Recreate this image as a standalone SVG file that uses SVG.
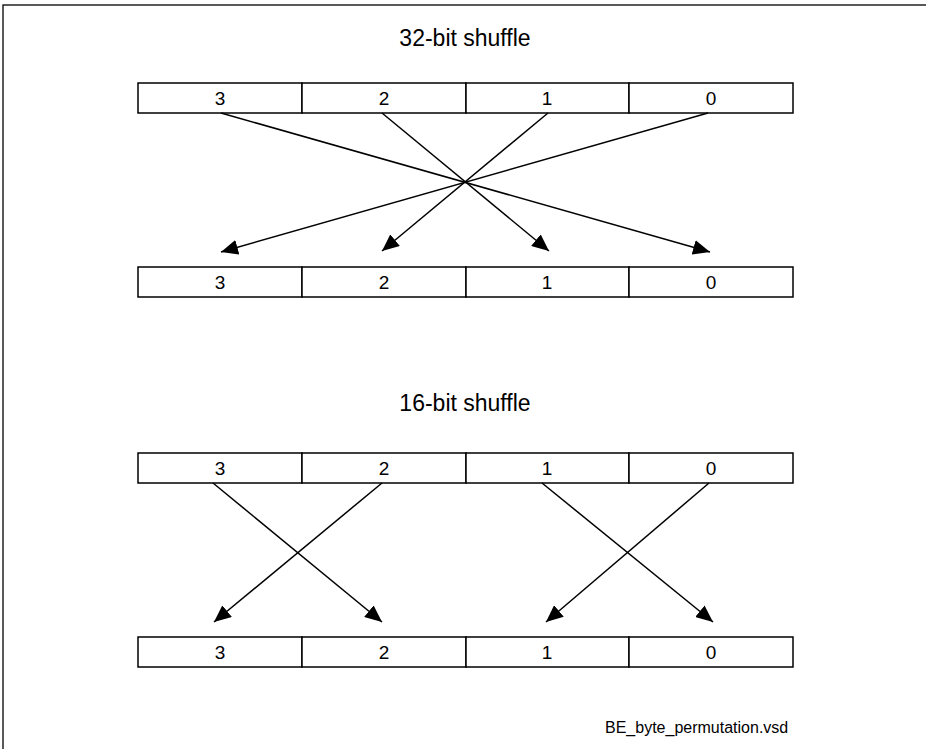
<svg xmlns="http://www.w3.org/2000/svg" width="926" height="749" viewBox="0 0 926 749">
<style>
.frame{fill:none;stroke:#000;stroke-width:1.3}
.cell{fill:#fff;stroke:#000;stroke-width:1.5}
.lbl{font-family:"Liberation Sans",Arial,sans-serif;font-size:19px;text-anchor:middle;fill:#000}
.title{font-family:"Liberation Sans",Arial,sans-serif;font-size:23px;text-anchor:middle;fill:#000}
.foot{font-family:"Liberation Sans",Arial,sans-serif;font-size:16px;fill:#000}
.conn line{stroke:#000;stroke-width:1.5;marker-end:url(#arr)}
</style>
<defs>
<marker id="arr" viewBox="0 0 17 15" refX="17" refY="7.5" markerWidth="17" markerHeight="15" markerUnits="userSpaceOnUse" orient="auto">
<path d="M0,0 L17,7.5 L0,15 z" fill="#000"/>
</marker>
</defs>
<rect width="926" height="749" fill="#fff"/>
<rect class="frame" x="3" y="5" width="940" height="760"/>
<text class="title" x="465" y="46">32-bit shuffle</text>
<g id="src32">
<rect class="cell" x="138" y="83" width="164" height="30"/>
<rect class="cell" x="302" y="83" width="164" height="30"/>
<rect class="cell" x="466" y="83" width="163" height="30"/>
<rect class="cell" x="629" y="83" width="164" height="30"/>
<text class="lbl" x="220" y="105">3</text>
<text class="lbl" x="384" y="105">2</text>
<text class="lbl" x="547" y="105">1</text>
<text class="lbl" x="711" y="105">0</text>
</g>
<g id="dst32">
<rect class="cell" x="138" y="267" width="164" height="30"/>
<rect class="cell" x="302" y="267" width="164" height="30"/>
<rect class="cell" x="466" y="267" width="163" height="30"/>
<rect class="cell" x="629" y="267" width="164" height="30"/>
<text class="lbl" x="220" y="289">3</text>
<text class="lbl" x="384" y="289">2</text>
<text class="lbl" x="547" y="289">1</text>
<text class="lbl" x="711" y="289">0</text>
</g>
<text class="title" x="465" y="411">16-bit shuffle</text>
<g id="src16">
<rect class="cell" x="138" y="453" width="164" height="30"/>
<rect class="cell" x="302" y="453" width="164" height="30"/>
<rect class="cell" x="466" y="453" width="163" height="30"/>
<rect class="cell" x="629" y="453" width="164" height="30"/>
<text class="lbl" x="220" y="475">3</text>
<text class="lbl" x="384" y="475">2</text>
<text class="lbl" x="547" y="475">1</text>
<text class="lbl" x="711" y="475">0</text>
</g>
<g id="dst16">
<rect class="cell" x="138" y="637" width="164" height="30"/>
<rect class="cell" x="302" y="637" width="164" height="30"/>
<rect class="cell" x="466" y="637" width="163" height="30"/>
<rect class="cell" x="629" y="637" width="164" height="30"/>
<text class="lbl" x="220" y="659">3</text>
<text class="lbl" x="384" y="659">2</text>
<text class="lbl" x="547" y="659">1</text>
<text class="lbl" x="711" y="659">0</text>
</g>
<g id="connectors" class="conn">
<line x1="221" y1="113" x2="710" y2="252"/>
<line x1="382" y1="113" x2="549" y2="251"/>
<line x1="548" y1="113" x2="382" y2="251"/>
<line x1="708" y1="113" x2="221" y2="252"/>
<line x1="213" y1="483" x2="382" y2="622"/>
<line x1="382" y1="483" x2="214" y2="622"/>
<line x1="542" y1="483" x2="713" y2="622"/>
<line x1="709" y1="483" x2="546" y2="622"/>
</g>
<text class="foot" x="605" y="733">BE_byte_permutation.vsd</text>
</svg>
